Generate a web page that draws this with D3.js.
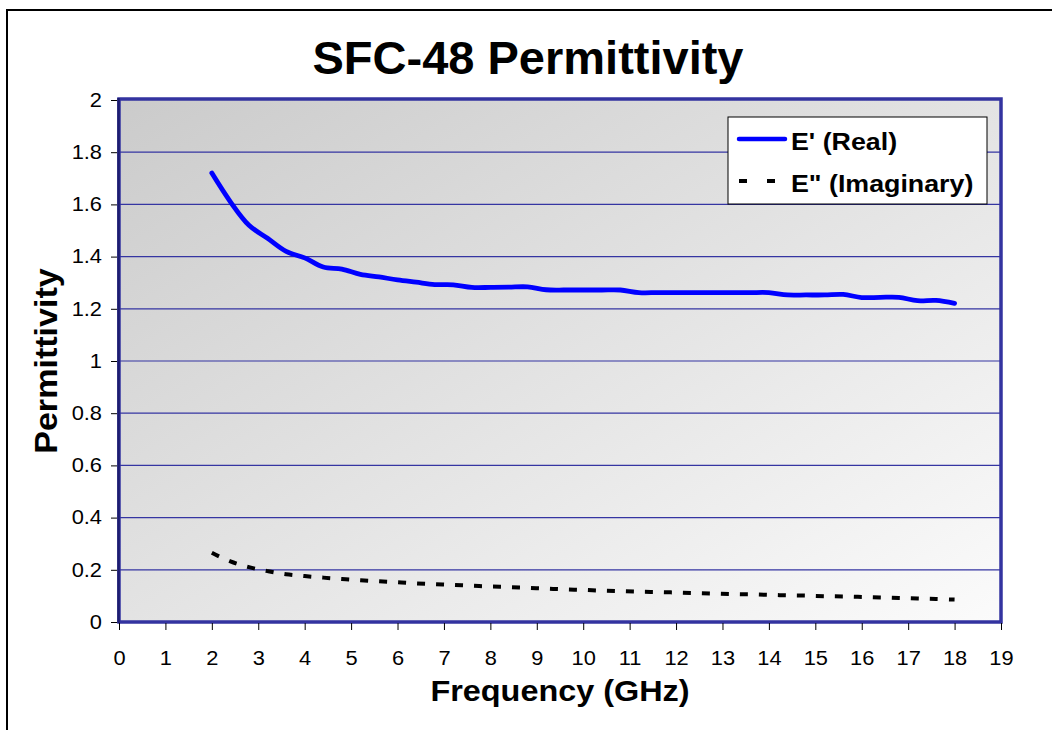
<!DOCTYPE html>
<html>
<head>
<meta charset="utf-8">
<script src="https://cdn.jsdelivr.net/npm/d3@7"></script>
<style>
  body { margin: 0; background: #fff; }
  svg { display: block; font-family: Arial, "Liberation Sans", sans-serif; }
</style>
</head>
<body>
<div id="chart"></div>
<script>
// Frequency points (GHz) and the two permittivity series
const freq = [2.0, 2.4, 2.8, 3.2, 3.6, 4.0, 4.4, 4.8, 5.2, 5.6, 6.0, 6.4, 6.8, 7.2, 7.6, 8.0,
              8.4, 8.8, 9.2, 9.6, 10.0, 10.4, 10.8, 11.2, 11.6, 12.0, 12.4, 12.8, 13.2, 13.6,
              14.0, 14.4, 14.8, 15.2, 15.6, 16.0, 16.4, 16.8, 17.2, 17.6, 18.0];
const realPart = [1.72, 1.61, 1.52, 1.47, 1.42, 1.395, 1.36, 1.352, 1.332, 1.322, 1.311, 1.302,
                  1.293, 1.292, 1.282, 1.282, 1.283, 1.284, 1.273, 1.272, 1.272, 1.272, 1.272,
                  1.262, 1.262, 1.262, 1.262, 1.262, 1.262, 1.262, 1.262, 1.253, 1.253, 1.253,
                  1.255, 1.243, 1.244, 1.244, 1.231, 1.232, 1.221];
const imagPart = [0.265, 0.232, 0.210, 0.195, 0.183, 0.176, 0.170, 0.165, 0.160, 0.156, 0.152,
                  0.148, 0.145, 0.142, 0.139, 0.136, 0.134, 0.131, 0.128, 0.125, 0.123, 0.120,
                  0.118, 0.116, 0.115, 0.113, 0.111, 0.109, 0.107, 0.106, 0.104, 0.102, 0.101,
                  0.099, 0.098, 0.096, 0.094, 0.092, 0.090, 0.088, 0.086];
const xTicks = [0, 1, 2, 3, 4, 5, 6, 7, 8, 9, 10, 11, 12, 13, 14, 15, 16, 17, 18, 19];
const yTicks = [0, 0.2, 0.4, 0.6, 0.8, 1, 1.2, 1.4, 1.6, 1.8, 2];
const seriesNames = ["E' (Real)", "E\" (Imaginary)"];

const W = 1052, H = 730;
const margin = {top: 100, right: 51, bottom: 108, left: 119};
const tickStretch = 1.12; // the picture's small text is a bit wider than Arial

const svg = d3.select("#chart").append("svg")
    .attr("width", W)
    .attr("height", H);

// Background gradient of the plot area
const defs = svg.append("defs");
const grad = defs.append("linearGradient")
    .attr("id", "plotbg")
    .attr("x1", "0").attr("y1", "0")
    .attr("x2", "1").attr("y2", "1");
grad.append("stop").attr("offset", "0%").attr("stop-color", "#cbcbcb");
grad.append("stop").attr("offset", "100%").attr("stop-color", "#fbfbfb");

// Outer chart border
svg.append("rect")
    .attr("x", 7).attr("y", 10)
    .attr("width", W + 20).attr("height", H + 20)
    .attr("fill", "#fff")
    .attr("stroke", "#000")
    .attr("stroke-width", 2);

const xScale = d3.scaleLinear().domain([0, 19]).range([margin.left, W - margin.right]);
const yScale = d3.scaleLinear().domain([0, 2]).range([H - margin.bottom, margin.top]);

// Plot area
svg.append("rect")
    .attr("x", xScale(0)).attr("y", yScale(2))
    .attr("width", xScale(19) - xScale(0))
    .attr("height", yScale(0) - yScale(2))
    .attr("fill", "url(#plotbg)");

// Horizontal gridlines
svg.append("g")
    .selectAll("line")
    .data(yTicks.slice(1, -1))
    .enter().append("line")
    .attr("x1", xScale(0)).attr("x2", xScale(19))
    .attr("y1", d => yScale(d)).attr("y2", d => yScale(d))
    .attr("stroke", "#3535a2")
    .attr("stroke-width", 1.2);

// Plot frame
svg.append("rect")
    .attr("x", xScale(0)).attr("y", yScale(2) - 1)
    .attr("width", xScale(19) - xScale(0))
    .attr("height", yScale(0) - yScale(2) + 1)
    .attr("fill", "none")
    .attr("stroke", "#3333a0")
    .attr("stroke-width", 3.5);
svg.append("line")
    .attr("x1", xScale(0) - 0.5).attr("x2", xScale(0) - 0.5)
    .attr("y1", yScale(2) - 2).attr("y2", yScale(0) + 1)
    .attr("stroke", "#1c1c6e")
    .attr("stroke-width", 2.5);

// Axes
const xAxis = svg.append("g")
    .attr("transform", `translate(0,${yScale(0) + 1})`)
    .call(d3.axisBottom(xScale).tickValues(xTicks).tickSize(7).tickPadding(21).tickSizeOuter(0));
const yAxis = svg.append("g")
    .attr("transform", `translate(${xScale(0) - 2},0)`)
    .call(d3.axisLeft(yScale).tickValues(yTicks).tickSize(6).tickPadding(9).tickSizeOuter(0)
        .tickFormat(d => d3.format("")(d)));

[xAxis, yAxis].forEach(a => {
    a.select(".domain").remove();
    a.selectAll(".tick line").attr("stroke", "#000");
    a.selectAll(".tick text")
        .attr("fill", "#000")
        .style("font-size", "19.5px")
        .style("font-family", "Arial, 'Liberation Sans', sans-serif");
});
xAxis.selectAll(".tick text").attr("transform", `scale(${tickStretch},1)`);
yAxis.selectAll(".tick text")
    .attr("x", -15 / tickStretch)
    .attr("transform", `scale(${tickStretch},1)`);

// Series lines
const seriesLine = d3.line()
    .x((d, i) => xScale(freq[i]))
    .y(d => yScale(d))
    .curve(d3.curveCatmullRom);

svg.append("path")
    .datum(realPart)
    .attr("d", seriesLine)
    .attr("fill", "none")
    .attr("stroke", "#0000ff")
    .attr("stroke-width", 4.8)
    .attr("stroke-linecap", "round")
    .attr("stroke-linejoin", "round");

svg.append("path")
    .datum(imagPart)
    .attr("d", seriesLine)
    .attr("fill", "none")
    .attr("stroke", "#000")
    .attr("stroke-width", 4)
    .attr("stroke-dasharray", "8,11");

// Bold text helper, with an optional sideways stretch
function label(x, y, str, size, stretch, rotate) {
    const g = svg.append("g")
        .attr("transform", `translate(${x},${y})` + (rotate ? " rotate(-90)" : ""));
    return g.append("text")
        .attr("transform", `scale(${stretch},1)`)
        .attr("text-anchor", "middle")
        .style("font-weight", "bold")
        .style("font-size", size + "px")
        .text(str);
}

label(528, 74, "SFC-48 Permittivity", 47, 1.0);
label(560, 701, "Frequency (GHz)", 30, 1.08);
label(57, 361, "Permittivity", 31, 1.1, true);

// Legend
const legend = svg.append("g").attr("transform", "translate(728,117)");
legend.append("rect")
    .attr("width", 259).attr("height", 87)
    .attr("fill", "#fff")
    .attr("stroke", "#000")
    .attr("stroke-width", 1);

const rows = legend.selectAll(".legend")
    .data(seriesNames)
    .enter().append("g")
    .attr("class", "legend")
    .attr("transform", (d, i) => `translate(0,${22 + i * 42})`);

rows.append("line")
    .attr("x1", 11).attr("x2", 57)
    .attr("stroke", (d, i) => i === 0 ? "#0000ff" : "#000")
    .attr("stroke-width", (d, i) => i === 0 ? 4.5 : 4)
    .attr("stroke-linecap", (d, i) => i === 0 ? "round" : "butt")
    .attr("stroke-dasharray", (d, i) => i === 0 ? null : "8,20");

rows.append("text")
    .attr("transform", "translate(63,11) scale(1.14,1)")
    .style("font-weight", "bold")
    .style("font-size", "23.5px")
    .text(d => d);
</script>
</body>
</html>
